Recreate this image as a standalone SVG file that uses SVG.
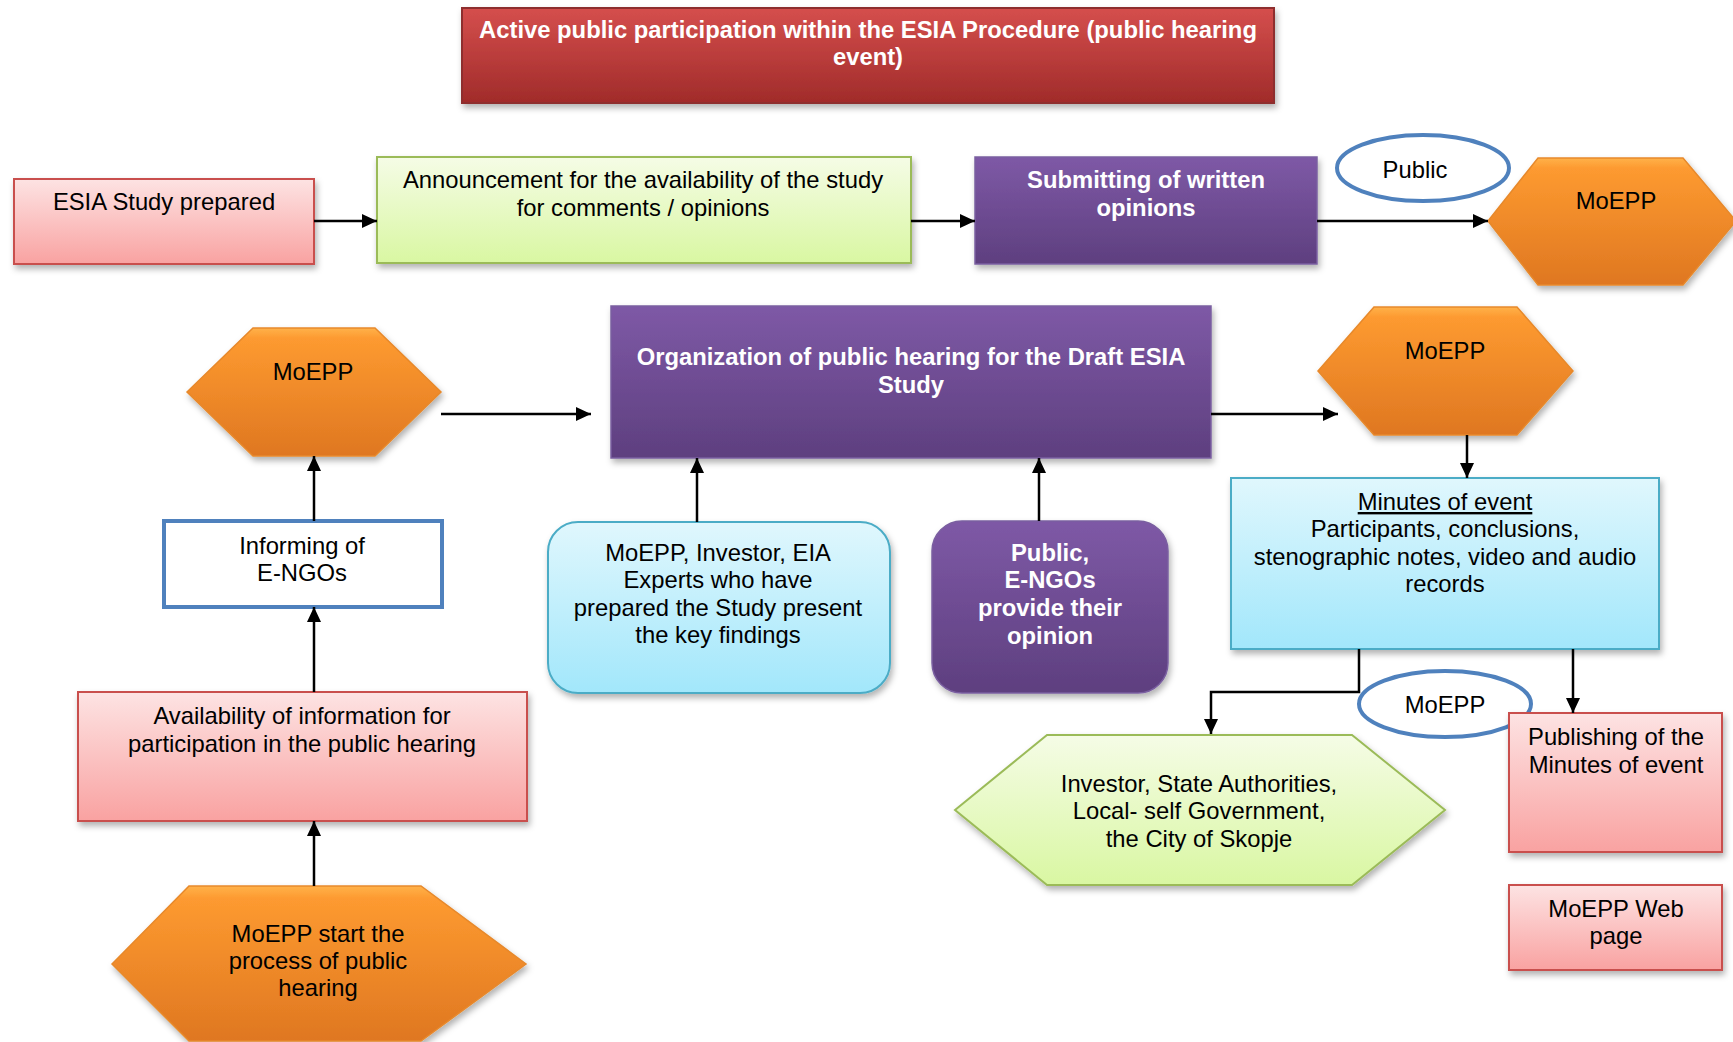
<svg xmlns="http://www.w3.org/2000/svg" width="1733" height="1042" viewBox="0 0 1733 1042">
<defs>
<linearGradient id="gRed" x1="0" y1="0" x2="0" y2="1"><stop offset="0" stop-color="#d54f4d"/><stop offset="1" stop-color="#a02b2a"/></linearGradient>
<linearGradient id="gPink" x1="0" y1="0" x2="0" y2="1"><stop offset="0" stop-color="#fde3e3"/><stop offset="1" stop-color="#f9a2a1"/></linearGradient>
<linearGradient id="gGreen" x1="0" y1="0" x2="0" y2="1"><stop offset="0" stop-color="#f5fce6"/><stop offset="1" stop-color="#d9f7a2"/></linearGradient>
<linearGradient id="gPurple" x1="0" y1="0" x2="0" y2="1"><stop offset="0" stop-color="#7e59a6"/><stop offset="1" stop-color="#5e3f7f"/></linearGradient>
<linearGradient id="gBlue" x1="0" y1="0" x2="0" y2="1"><stop offset="0" stop-color="#e0f7fd"/><stop offset="1" stop-color="#a2e7fb"/></linearGradient>
<linearGradient id="gOrange" x1="0" y1="0" x2="0" y2="1"><stop offset="0" stop-color="#ffb24a"/><stop offset="0.08" stop-color="#fd9a30"/><stop offset="1" stop-color="#df7721"/></linearGradient>
<filter id="sh" x="-10%" y="-10%" width="125%" height="130%"><feDropShadow dx="2" dy="4" stdDeviation="3" flood-color="#000" flood-opacity="0.3"/></filter>
<marker id="arr" markerUnits="userSpaceOnUse" markerWidth="16" markerHeight="16" viewBox="0 0 16 16" refX="15" refY="8" orient="auto"><path d="M0,1 L15,8 L0,15 Z" fill="#000"/></marker>
<style>
text{font-family:"Liberation Sans",Arial,sans-serif;font-size:23.8px;text-anchor:middle;fill:#000}
.w{fill:#fff;font-weight:bold}
.pink{fill:url(#gPink);stroke:#c9504e;stroke-width:2}
.green{fill:url(#gGreen);stroke:#9bbb59;stroke-width:2}
.purple{fill:url(#gPurple);stroke:#7a5fa0;stroke-width:1.5}
.blue{fill:url(#gBlue);stroke:#4bacc6;stroke-width:2}
.orange{fill:url(#gOrange);stroke:#e7892c;stroke-width:1.5}
.oval{fill:#fff;stroke:#4f81bd;stroke-width:4}
.conn path{fill:none;stroke:#000;stroke-width:2.5;marker-end:url(#arr)}
</style>
</defs>
<rect width="1733" height="1042" fill="#fff"/>

<g id="title"><rect x="462" y="8" width="812" height="95" fill="url(#gRed)" stroke="#8e2d2d" stroke-width="2" filter="url(#sh)"/>
<text class="w" x="868" y="38">Active public participation within the ESIA Procedure (public hearing</text>
<text class="w" x="868" y="65">event)</text></g>

<g id="esia"><rect class="pink" x="14" y="179" width="300" height="85" filter="url(#sh)"/><text x="164" y="210">ESIA Study prepared</text></g>

<g id="announcement"><rect class="green" x="377" y="157" width="534" height="106" filter="url(#sh)"/>
<text x="643" y="188">Announcement for the availability of the study</text><text x="643" y="216">for comments / opinions</text></g>

<g id="submitting"><rect class="purple" x="975" y="157" width="342" height="107" filter="url(#sh)"/>
<text class="w" x="1146" y="188">Submitting of written</text><text class="w" x="1146" y="216">opinions</text></g>

<g id="public-oval"><ellipse class="oval" cx="1423" cy="168" rx="86" ry="33"/><text x="1415" y="178">Public</text></g>

<g id="moepp-top"><polygon class="orange" points="1488,221 1538,158 1683,158 1736,221 1683,285 1538,285" filter="url(#sh)"/><text x="1616" y="209">MoEPP</text></g>

<g id="moepp-left"><polygon class="orange" points="187,392 253,328 375,328 441,392 375,456 253,456" filter="url(#sh)"/><text x="313" y="380">MoEPP</text></g>

<g id="organization"><rect class="purple" x="611" y="306" width="600" height="152" filter="url(#sh)"/>
<text class="w" x="911" y="365">Organization of public hearing for the Draft ESIA</text><text class="w" x="911" y="393">Study</text></g>

<g id="moepp-right"><polygon class="orange" points="1318,371 1374,307 1517,307 1573,371 1517,435 1374,435" filter="url(#sh)"/><text x="1445" y="359">MoEPP</text></g>

<g id="minutes"><rect class="blue" x="1231" y="478" width="428" height="171" filter="url(#sh)"/>
<text x="1445" y="510" text-decoration="underline">Minutes of event</text>
<text x="1445" y="537">Participants, conclusions,</text>
<text x="1445" y="565">stenographic notes, video and audio</text>
<text x="1445" y="592">records</text></g>

<g id="informing"><rect x="164" y="521" width="278" height="86" fill="#fff" stroke="#4f81bd" stroke-width="4"/>
<text x="302" y="554">Informing of</text><text x="302" y="581">E-NGOs</text></g>

<g id="presenters"><rect class="blue" x="548" y="522" width="342" height="171" rx="30" filter="url(#sh)"/>
<text x="718" y="561">MoEPP, Investor, EIA</text><text x="718" y="588">Experts who have</text>
<text x="718" y="616">prepared the Study present</text><text x="718" y="643">the key findings</text></g>

<g id="public-engos"><rect class="purple" x="932" y="521" width="236" height="172" rx="30" filter="url(#sh)"/>
<text class="w" x="1050" y="561">Public,</text><text class="w" x="1050" y="588">E-NGOs</text>
<text class="w" x="1050" y="616">provide their</text><text class="w" x="1050" y="644">opinion</text></g>

<g id="availability"><rect class="pink" x="78" y="692" width="449" height="129" filter="url(#sh)"/>
<text x="302" y="724">Availability of information for</text><text x="302" y="752">participation in the public hearing</text></g>

<g id="moepp-start"><polygon class="orange" points="112,964 189,886 421,886 526,964 421,1041 189,1041" filter="url(#sh)"/>
<text x="318" y="942">MoEPP start the</text><text x="318" y="969">process of public</text><text x="318" y="996">hearing</text></g>

<g id="moepp-oval"><ellipse class="oval" cx="1445" cy="704" rx="86" ry="33"/><text x="1445" y="713">MoEPP</text></g>

<g id="stakeholders"><polygon class="green" points="955,810 1047,735 1352,735 1445,810 1352,885 1047,885" filter="url(#sh)"/>
<text x="1199" y="792">Investor, State Authorities,</text><text x="1199" y="819">Local- self Government,</text><text x="1199" y="847">the City of Skopje</text></g>

<g id="publishing"><rect class="pink" x="1509" y="713" width="213" height="139" filter="url(#sh)"/>
<text x="1616" y="745">Publishing of the</text><text x="1616" y="773">Minutes of event</text></g>

<g id="webpage"><rect class="pink" x="1509" y="885" width="213" height="85" filter="url(#sh)"/>
<text x="1616" y="917">MoEPP Web</text><text x="1616" y="944">page</text></g>

<g id="connectors" class="conn">
<path d="M314 221 H377"/>
<path d="M911 221 H975"/>
<path d="M1317 221 H1488"/>
<path d="M441 414 H591"/>
<path d="M1211 414 H1338"/>
<path d="M1467 435 V478"/>
<path d="M314 521 V456"/>
<path d="M314 692 V607"/>
<path d="M314 886 V821"/>
<path d="M697 522 V458"/>
<path d="M1039 521 V458"/>
<path d="M1359 649 V692 H1211 V734"/>
<path d="M1573 649 V713"/>
</g>
</svg>
